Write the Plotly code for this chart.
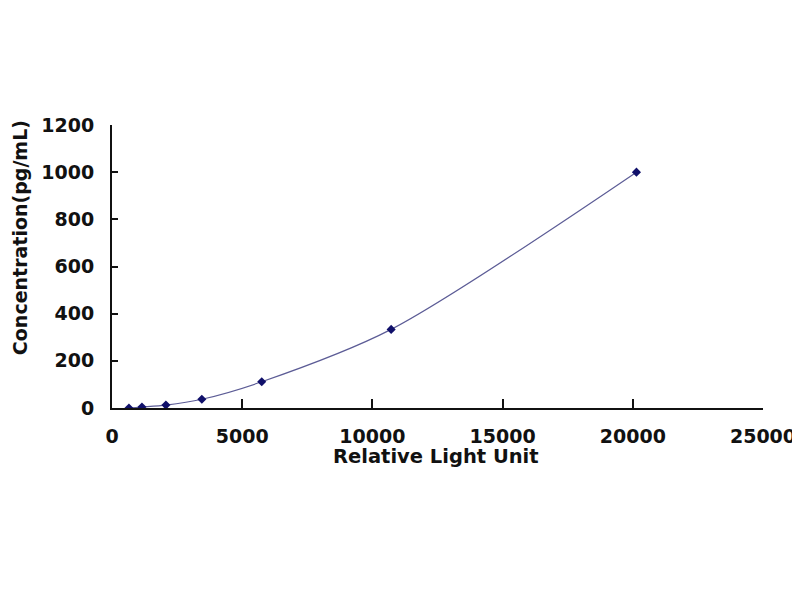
import plotly.graph_objects as go

rlu = [650, 1150, 2070, 3450, 5750, 10720, 20140]
conc = [0, 4.1, 12.3, 37.0, 111.1, 333.3, 1000]

x_ticks = [0, 5000, 10000, 15000, 20000, 25000]
y_ticks = [0, 200, 400, 600, 800, 1000, 1200]

FONT = "DejaVu Sans"

fig = go.Figure()
fig.add_trace(go.Scatter(
    x=rlu, y=conc, mode="lines+markers",
    line=dict(color="#5c5c96", width=1.2, shape="spline", smoothing=0.8),
    marker=dict(symbol="diamond", size=7, color="#10106a"),
    showlegend=False, hoverinfo="x+y",
))

fig.update_layout(
    width=800, height=600,
    margin=dict(l=104, r=40, t=117, b=200),
    paper_bgcolor="white", plot_bgcolor="white",
    font=dict(family=FONT, size=18, color="#111111"),
    annotations=[
        dict(text="<b>Relative Light Unit</b>", xref="paper", yref="paper",
             x=0.498, y=-0.17, xanchor="center", yanchor="middle",
             showarrow=False, font=dict(family=FONT, size=19.5, color="#111111")),
        dict(text="<b>Concentration(pg/mL)</b>", xref="paper", yref="paper",
             x=-0.141, y=0.601, xanchor="center", yanchor="middle", textangle=-90,
             showarrow=False, font=dict(family=FONT, size=19, color="#111111")),
    ],
)
fig.update_xaxes(
    range=[0, 25000], tickvals=x_ticks, ticktext=[str(v) for v in x_ticks],
    showgrid=False, zeroline=False, showline=True, linecolor="#111111", linewidth=2,
    ticks="inside", ticklen=9, tickwidth=2, tickcolor="#111111",
    tickfont=dict(family=FONT, size=19, weight="bold"),
    ticklabelstandoff=10,
)
fig.update_yaxes(
    range=[0, 1200], tickvals=y_ticks, ticktext=[str(v) for v in y_ticks],
    showgrid=False, zeroline=False, showline=True, linecolor="#111111", linewidth=2,
    ticks="inside", ticklen=6, tickwidth=2, tickcolor="#111111",
    tickfont=dict(family=FONT, size=19, weight="bold"),
    ticklabelstandoff=12,
)

fig.write_html("out.html")
